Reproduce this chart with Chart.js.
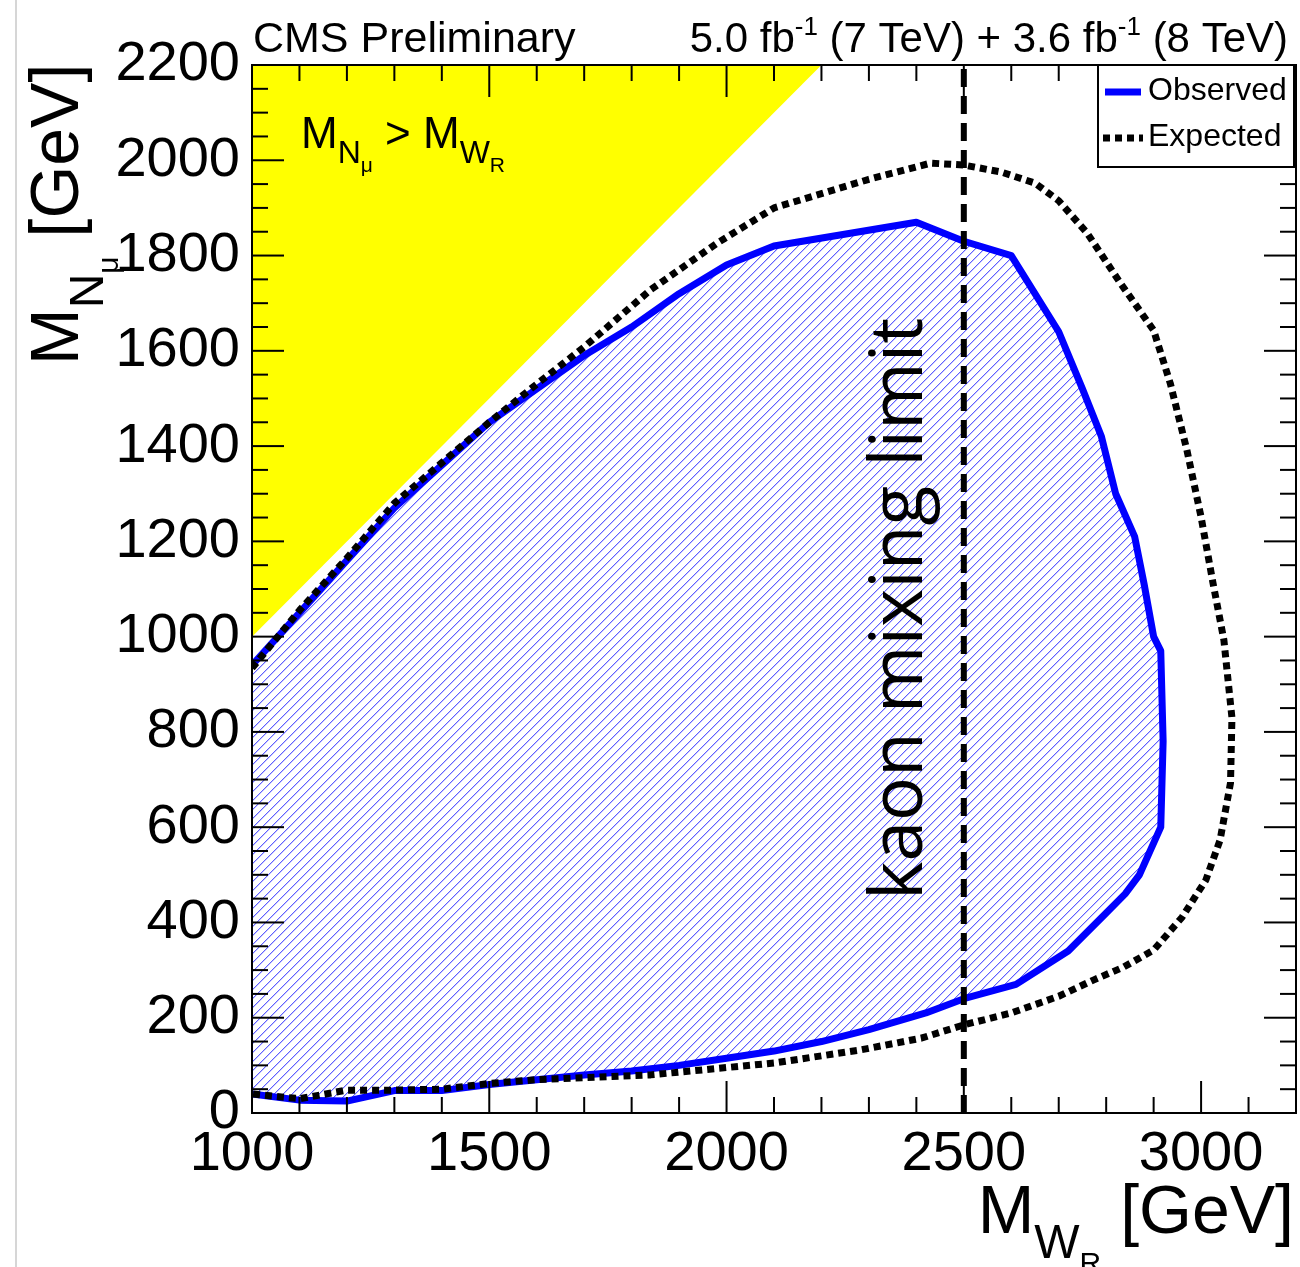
<!DOCTYPE html>
<html>
<head>
<meta charset="utf-8">
<script src="https://cdn.jsdelivr.net/npm/chart.js@4.4.1/dist/chart.umd.min.js"></script>
<style>
  html, body { margin: 0; padding: 0; background: #fff; }
  #wrap { position: relative; width: 1300px; height: 1267px; }
  #edge { position: absolute; left: 15px; top: 0; width: 2px; height: 1267px; background: #d6d6d6; }
  canvas { position: absolute; left: 0; top: 0; }
</style>
</head>
<body>
<div id="wrap"><canvas id="c" width="1300" height="1267"></canvas><div id="edge"></div></div>
<script>
// observed 95% CL exclusion contour in the (M_WR, M_N) plane, GeV, clockwise from the left edge
const obsMW = [1000, 1100, 1200, 1300, 1400, 1500, 1600, 1700, 1800, 1900,
               2000, 2100, 2400, 2500, 2600, 2700, 2750, 2790, 2820, 2860,
               2880, 2900, 2915, 2920, 2915, 2870, 2840, 2800, 2720, 2610,
               2500, 2420, 2300, 2200, 2100, 2000, 1900, 1800, 1700, 1600,
               1500, 1400, 1300, 1200, 1100, 1000];
const obsMN = [940, 1050, 1160, 1270, 1360, 1450, 1520, 1590, 1650, 1720,
               1780, 1820, 1870, 1830, 1800, 1640, 1520, 1420, 1300, 1210,
               1110, 1000, 970, 780, 600, 500, 460, 420, 340, 270,
               240, 210, 175, 150, 130, 115, 100, 88, 80, 70,
               60, 47, 47, 25, 27, 40];

// expected contour
const expMW = [1000, 1100, 1200, 1300, 1400, 1500, 1600, 1700, 1840, 1980,
               2100, 2200, 2300, 2430, 2500, 2580, 2650, 2700, 2760, 2830,
               2900, 2935, 2970, 3000, 3025, 3048, 3065, 3062, 3040, 3010,
               2960, 2900, 2836, 2773, 2700, 2600, 2500, 2410, 2280, 2100,
               1840, 1600, 1500, 1400, 1300, 1200, 1100, 1000];
const expMN = [934, 1055, 1165, 1280, 1365, 1450, 1530, 1608, 1728, 1826,
               1900, 1930, 1960, 1994, 1990, 1975, 1952, 1915, 1847, 1742,
               1643, 1532, 1392, 1251, 1113, 993, 830, 693, 573, 489,
               411, 342, 306, 279, 245, 210, 185, 157, 132, 105,
               80, 70, 62, 50, 48, 48, 30, 40];

// kinematically forbidden corner M_N > M_WR
const forbidMW = [1000, 2200, 1000];
const forbidMN = [1000, 2200, 2200];

const kaonMW = [2500, 2500];
const kaonMN = [0, 2200];

const xTicks = [1000, 1500, 2000, 2500, 3000];
const yTicks = [0, 200, 400, 600, 800, 1000, 1200, 1400, 1600, 1800, 2000, 2200];

const FONT = '"Liberation Sans", Arial, Helvetica, sans-serif';
Chart.defaults.font.family = FONT;

const pts = (xs, ys) => xs.map((x, i) => ({ x, y: ys[i] }));

// pixel "/" hatching for the excluded area
function hatch() {
  const n = 9;
  const c = document.createElement('canvas');
  c.width = c.height = n;
  const g = c.getContext('2d');
  for (let i = 0; i < n; i++) {
    g.fillStyle = 'rgb(95,95,255)';
    g.fillRect(i, n - 1 - i, 1, 1);
    g.fillStyle = 'rgb(200,200,255)';
    g.fillRect((i + 1) % n, n - 1 - i, 1, 1);
  }
  return g.createPattern(c, 'repeat');
}

// text pieces: [string, px size, baseline shift]
function runs(ctx, parts, x, y, align) {
  let w = 0;
  for (const [t, s] of parts) { ctx.font = s + 'px ' + FONT; w += ctx.measureText(t).width; }
  let cx = align === 'right' ? x - w : x;
  for (const [t, s, dy] of parts) {
    ctx.font = s + 'px ' + FONT;
    ctx.fillText(t, cx, y + dy);
    cx += ctx.measureText(t).width;
  }
}

function line(ctx, x1, y1, x2, y2) {
  ctx.beginPath(); ctx.moveTo(x1, y1); ctx.lineTo(x2, y2); ctx.stroke();
}

// ROOT style frame with inward ticks on all four sides
const frameTicks = {
  id: 'frameTicks',
  afterDatasetsDraw(chart) {
    const { ctx, chartArea: a, scales: { x, y } } = chart;
    ctx.save();
    ctx.strokeStyle = '#000';
    ctx.lineWidth = 2;
    for (let v = x.min; v <= x.max; v += 100) {
      const px = x.getPixelForValue(v);
      const len = v % 500 === 0 ? 32 : 16;
      line(ctx, px, a.bottom, px, a.bottom - len);
      line(ctx, px, a.top, px, a.top + len);
    }
    for (let v = y.min; v <= y.max; v += 50) {
      const py = y.getPixelForValue(v);
      const len = v % 200 === 0 ? 32 : 16;
      line(ctx, a.left, py, a.left + len, py);
      line(ctx, a.right, py, a.right - len, py);
    }
    ctx.strokeRect(a.left, a.top, a.right - a.left, a.bottom - a.top);
    ctx.restore();
  }
};

const labels = {
  id: 'labels',
  afterDraw(chart) {
    const { ctx, chartArea: a } = chart;
    ctx.save();
    ctx.fillStyle = '#000';
    ctx.textBaseline = 'alphabetic';

    runs(ctx, [['CMS Preliminary', 43, 0]], 253, 52, 'left');
    runs(ctx, [['5.0 fb', 42, 0], ['-1', 26, -17], [' (7 TeV) + 3.6 fb', 42, 0], ['-1', 26, -17], [' (8 TeV)', 42, 0]],
      1288, 52, 'right');

    runs(ctx, [['M', 44, 0], ['N', 32, 15], ['\u03bc', 21, 24], [' > M', 44, 0], ['W', 32, 15], ['R', 21, 24]],
      301, 148, 'left');

    // axis titles
    runs(ctx, [['M', 68, 0], ['W', 48, 25], ['R', 30, 40], [' [GeV]', 68, 0]], 1294, 1233, 'right');
    ctx.save();
    ctx.translate(78, 365);
    ctx.rotate(-Math.PI / 2);
    runs(ctx, [['M', 68, 0], ['N', 48, 25], ['\u03bc', 30, 40], [' [GeV]', 68, 0]], 0, 0, 'left');
    ctx.restore();

    // kaon mixing label along the dashed line
    ctx.save();
    ctx.translate(922, 900);
    ctx.rotate(-Math.PI / 2);
    ctx.font = '100px "Open Sans", sans-serif';
    const w100 = ctx.measureText('kaon mixing limit').width;
    ctx.font = (100 * 582 / w100).toFixed(1) + 'px "Open Sans", sans-serif';
    ctx.fillText('kaon mixing limit', 0, 0);
    ctx.restore();

    // legend
    const L = 1098, T = a.top, R = a.right - 2, B = 167;
    ctx.fillStyle = '#fff';
    ctx.fillRect(L, T, R - L, B - T);
    ctx.strokeStyle = '#000';
    ctx.lineWidth = 2;
    ctx.strokeRect(L, T, R - L, B - T);
    ctx.lineWidth = 7;
    ctx.strokeStyle = '#0000ff';
    line(ctx, 1105, 92, 1141, 92);
    ctx.strokeStyle = '#000';
    ctx.setLineDash([7, 5]);
    line(ctx, 1103, 138, 1143, 138);
    ctx.setLineDash([]);
    ctx.fillStyle = '#000';
    runs(ctx, [['Observed', 32, 0]], 1148, 100, 'left');
    runs(ctx, [['Expected', 32, 0]], 1148, 146, 'left');
    ctx.restore();
  }
};

new Chart(document.getElementById('c'), {
  type: 'line',
  data: {
    datasets: [
      {
        label: 'kaon mixing limit',
        data: pts(kaonMW, kaonMN),
        borderColor: '#000', borderWidth: 6, borderDash: [18, 9],
        pointRadius: 0, fill: false, clip: 0, order: 0
      },
      {
        label: 'Expected',
        data: pts(expMW, expMN),
        borderColor: '#000', borderWidth: 7, borderDash: [7, 5],
        borderJoinStyle: 'round', pointRadius: 0, fill: false, tension: 0, clip: 0, order: 1
      },
      {
        label: 'Observed',
        data: pts(obsMW, obsMN),
        borderColor: '#0000ff', borderWidth: 7, backgroundColor: hatch(),
        borderJoinStyle: 'round', pointRadius: 0, fill: 'shape', tension: 0, clip: 0, order: 2
      },
      {
        label: 'M_N > M_WR',
        data: pts(forbidMW, forbidMN),
        borderWidth: 0, borderColor: 'rgba(0,0,0,0)', backgroundColor: '#ffff00',
        pointRadius: 0, fill: 'shape', clip: 0, order: 3
      }
    ]
  },
  options: {
    responsive: false,
    animation: false,
    devicePixelRatio: 1,
    layout: { padding: { top: 65, right: 4, left: 0, bottom: 0 } },
    plugins: { legend: { display: false }, tooltip: { enabled: false } },
    scales: {
      x: {
        type: 'linear', min: 1000, max: 3200,
        grid: { display: false, drawTicks: false },
        border: { display: false },
        ticks: { font: { size: 56 }, color: '#000', padding: 8, autoSkip: false, maxRotation: 0,
                 callback: v => String(v) },
        afterBuildTicks: s => { s.ticks = xTicks.map(v => ({ value: v })); },
        afterFit: s => { s.height = 154; }
      },
      y: {
        type: 'linear', min: 0, max: 2200,
        grid: { display: false, drawTicks: false },
        border: { display: false },
        ticks: { font: { size: 56 }, color: '#000', padding: 12, autoSkip: false,
                 callback: v => String(v) },
        afterBuildTicks: s => { s.ticks = yTicks.map(v => ({ value: v })); },
        afterFit: s => { s.width = 252; }
      }
    }
  },
  plugins: [frameTicks, labels]
});
</script>
</body>
</html>
